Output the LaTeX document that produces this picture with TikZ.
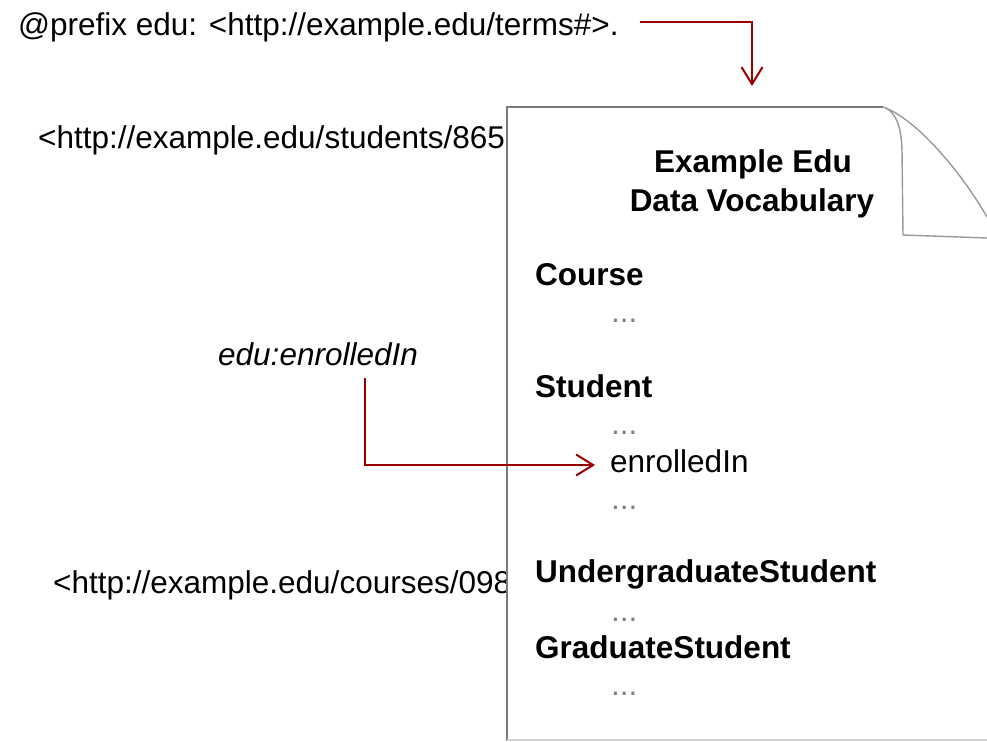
\documentclass[tikz,border=0pt]{standalone}
\usepackage{fontspec}
\setmainfont{Liberation Sans}
\usetikzlibrary{arrows.meta}
\definecolor{arrred}{HTML}{9B0000}
\definecolor{docgray}{HTML}{7A7A7A}
\definecolor{curlgray}{HTML}{9A9A9A}
\definecolor{dotgray}{HTML}{808080}
\tikzset{
  txt/.style={inner sep=0pt, anchor=base west, font=\fontsize{31.5}{36}\selectfont},
  btxt/.style={txt, font=\fontsize{31.5}{36}\selectfont\bfseries},
  ctxt/.style={inner sep=0pt, anchor=base, font=\fontsize{31.5}{36}\selectfont\bfseries},
  dots/.style={txt, text=dotgray},
  redarrow/.style={draw=arrred, line width=2pt, -{Straight Barb[length=17pt,width=21pt,line width=2pt]}},
  docline/.style={draw=docgray, line width=2pt},
  curl/.style={draw=curlgray, line width=1.4pt},
}
\begin{document}
\begin{tikzpicture}[x=1pt,y=-1pt]
\useasboundingbox (0,0) rectangle (987,741);
% left column texts
\node[txt] (prefix) at (18,36) {@prefix edu: <http://example.edu/terms\#>.};
\node[txt] (student) at (38,148) {<http://example.edu/students/8657>};
\node[txt, font=\fontsize{31.5}{36}\selectfont\itshape] (prop) at (218,365) {edu:enrolledIn};
\node[txt] (course) at (53,593) {<http://example.edu/courses/0987>};
% document
\fill[white] (507,741) -- (507,107) -- (883,107)
  .. controls (915,118) and (960,170) .. (987,217) -- (987,741) -- cycle;
\draw[docline] (507,741) -- (507,107) -- (883,107);
\draw[curl] (883,107) .. controls (915,118) and (960,170) .. (987,217);
\draw[curl] (886,108) .. controls (896,114) and (901,125) .. (902,150) -- (903,235) -- (987,238);
\draw[draw=black!18, line width=1.5pt] (507,740) -- (987,740);
% document texts
\node[ctxt] (title1) at (753,172) {Example Edu};
\node[ctxt] (title2) at (752,211) {Data Vocabulary};
\node[btxt] (cCourse) at (535,285) {Course};
\node[dots] (d1) at (611,322) {...};
\node[btxt] (cStudent) at (535,397) {Student};
\node[dots] (d2) at (611,434) {...};
\node[txt] (enr) at (610,472) {enrolledIn};
\node[dots] (d3) at (611,509) {...};
\node[btxt] (cUnder) at (535,582) {UndergraduateStudent};
\node[dots] (d4) at (611,621) {...};
\node[btxt] (cGrad) at (535,658) {GraduateStudent};
\node[dots] (d5) at (611,695) {...};
% connectors
\coordinate (a1s) at (640,22);
\coordinate (a1e) at (752,86);
\draw[redarrow] (a1s) -| (a1e);
\coordinate (a2s) at (365,378);
\coordinate (a2e) at (595,465);
\draw[redarrow] (a2s) |- (a2e);
\end{tikzpicture}
\end{document}
